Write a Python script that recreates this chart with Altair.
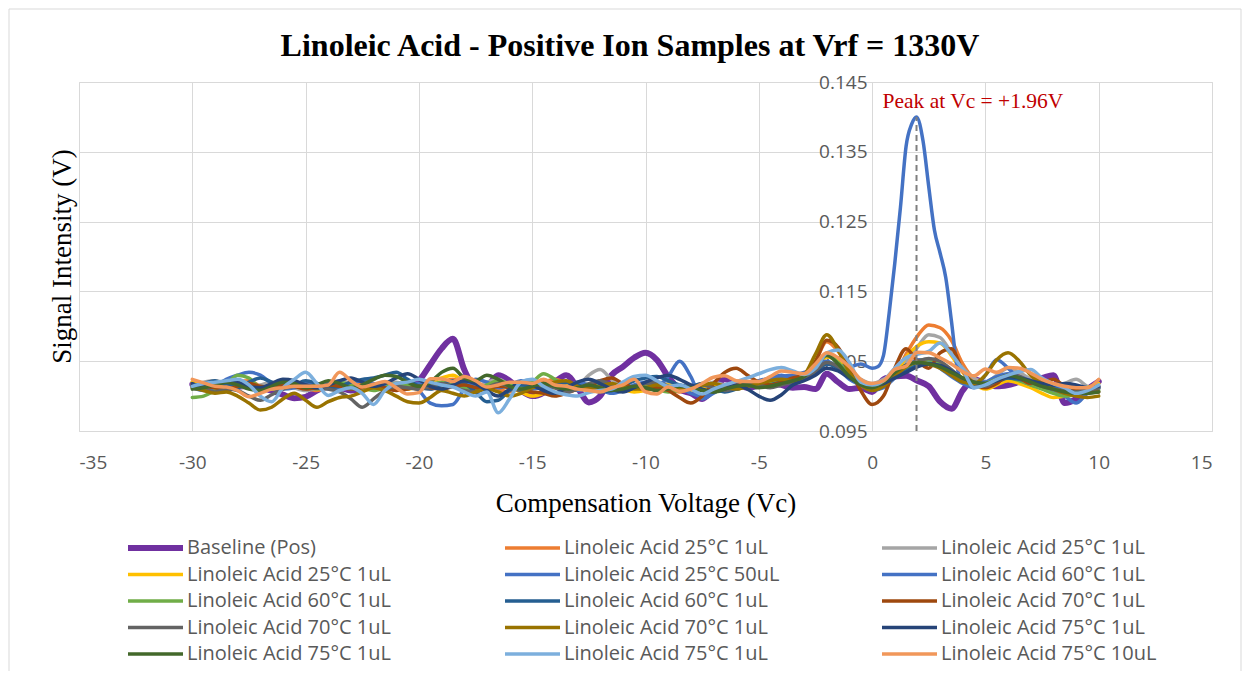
import altair as alt
import pandas as pd

# ---------------- data (signal values in units of 0.1 mV, i.e. 1017 -> 0.1017 V) ----------------
VC_GRID = [round(-30 + 0.5 * i, 1) for i in range(81)]  # -30 ... 10 in 0.5 V steps

baseline_pos = [1017, 1016, 1012, 1010, 1013, 1015, 1012, 1008, 1002, 997,
                999, 1008, 1014, 1012, 1008, 1010, 1015, 1013, 1010, 1012,
                1022, 1045, 1068, 1082, 1038, 1012, 1015, 1030, 1022, 1008,
                1000, 1005, 1020, 1030, 1012, 991, 1000, 1030, 1042, 1055,
                1062, 1052, 1028, 1010, 1004, 996, 1010, 1024, 1018, 1012,
                1015, 1020, 1016, 1012, 1013, 1010, 1032, 1020, 1010, 1012,
                1006, 1024, 1028, 1029, 1022, 1014, 992, 982, 1008, 1024,
                1018, 1014, 1016, 1020, 1022, 1026, 1030, 990, 996, 1010,
                1021]
la25_1_orange = [1018, 1015, 1012, 1016, 1020, 1022, 1014, 1010, 1015, 1018,
                 1012, 1008, 1012, 1016, 1020, 1015, 1010, 1012, 1018, 1014,
                 1010, 1016, 1020, 1024, 1018, 1012, 1016, 1010, 1006, 1012,
                 1016, 1020, 1024, 1018, 1012, 1010, 1014, 1018, 1012, 1008,
                 1012, 1016, 1010, 1006, 1012, 1018, 1014, 1010, 1016, 1020,
                 1018, 1022, 1026, 1024, 1028, 1050, 1078, 1064, 1040, 1022,
                 1014, 1016, 1028, 1060, 1086, 1102, 1098, 1080, 1046, 1024,
                 1014, 1018, 1026, 1030, 1022, 1012, 1006, 1008, 1004, 1006,
                 1014]
la25_1_gray = [1016, 1020, 1022, 1018, 1014, 1012, 1016, 1020, 1018, 1012,
               1008, 1012, 1018, 1022, 1016, 1010, 1012, 1016, 1020, 1016,
               1012, 1010, 1016, 1022, 1018, 1014, 1020, 1024, 1016, 1010,
               1012, 1018, 1016, 1010, 1014, 1030, 1038, 1024, 1014, 1012,
               1016, 1020, 1018, 1012, 1008, 1014, 1020, 1016, 1012, 1016,
               1020, 1024, 1020, 1022, 1028, 1042, 1058, 1052, 1036, 1024,
               1018, 1024, 1036, 1050, 1070, 1088, 1084, 1062, 1040, 1026,
               1020, 1030, 1040, 1034, 1024, 1016, 1012, 1018, 1024, 1014,
               1010]
la25_1_yellow = [1020, 1016, 1014, 1018, 1022, 1018, 1012, 1010, 1016, 1020,
                 1016, 1012, 1014, 1018, 1014, 1008, 1012, 1018, 1014, 1010,
                 1014, 1020, 1026, 1030, 1020, 1012, 1010, 1014, 1012, 1006,
                 1000, 1004, 1012, 1016, 1012, 1008, 1010, 1014, 1010, 1006,
                 1008, 1012, 1016, 1012, 1008, 1010, 1014, 1012, 1010, 1014,
                 1016, 1020, 1018, 1020, 1026, 1038, 1056, 1050, 1032, 1016,
                 1010, 1016, 1030, 1056, 1072, 1078, 1076, 1058, 1034, 1018,
                 1010, 1016, 1022, 1018, 1012, 1004, 998, 1000, 1006, 1012,
                 1018]
la25_50 = [1012, 1008, 1012, 1024, 1030, 1034, 1030, 1018, 1010, 1012,
           1020, 1016, 1010, 1012, 1018, 1022, 1018, 1014, 1012, 1018,
           1008, 990, 986, 988, 1010, 1024, 1020, 1012, 1016, 1022,
           1018, 1008, 1004, 1012, 1020, 1016, 1010, 1004, 1008, 1016,
           1020, 1014, 1028, 1050, 1028, 996, 1004, 1014, 1010, 1016,
           1022, 1026, 1030, 1026, 1032, 1044, 1050, 1040, 1024, 1016,
           1008, 1012, 1026, 1040, 1052, 1050, 1040, 1028, 1018, 1012,
           1030, 1052, 1040, 1024, 1016, 1012, 1008, 1000, 990, 1004,
           1012]
# peak series has a finer grid around the peak
la60_1_peak_vc = [-30, -29.5, -29, -28.5, -28, -27.5, -27, -26.5, -26, -25.5,
                  -25, -24.5, -24, -23.5, -23, -22.5, -22, -21.5, -21, -20.5,
                  -20, -19.5, -19, -18.5, -18, -17.5, -17, -16.5, -16, -15.5,
                  -15, -14.5, -14, -13.5, -13, -12.5, -12, -11.5, -11, -10.5,
                  -10, -9.5, -9, -8.5, -8, -7.5, -7, -6.5, -6, -5.5,
                  -5, -4.5, -4, -3.5, -3, -2.5, -2, -1.5, -1, -0.5,
                  0, 0.25, 0.5, 0.75, 1.0, 1.25, 1.5, 1.75, 1.96, 2.25,
                  2.5, 2.75, 3.0, 3.25, 3.5, 3.75, 4.0, 4.5,
                  5, 5.5, 6, 6.5, 7, 7.5, 8, 8.5, 9, 9.5, 10]
la60_1_peak = [1016, 1012, 1010, 1014, 1018, 1016, 1012, 1016, 1020, 1016,
               1012, 1014, 1020, 1016, 1010, 1012, 1016, 1014, 1010, 1014,
               1018, 1014, 1010, 1014, 1020, 1016, 1012, 1014, 1018, 1014,
               1010, 1014, 1016, 1012, 1008, 1012, 1016, 1012, 1008, 1012,
               1016, 1012, 1008, 1012, 1004, 1000, 1008, 1014, 1012, 1016,
               1020, 1024, 1028, 1030, 1034, 1040, 1046, 1044, 1042, 1046,
               1040, 1042, 1058, 1118, 1190, 1270, 1358, 1390, 1400, 1365,
               1300, 1238, 1205, 1170, 1108, 1042, 1020, 1016,
               1020, 1028, 1032, 1028, 1022, 1018, 1014, 1010, 1012, 1010, 1014]
la60_1_green = [998, 1000, 1008, 1016, 1030, 1026, 1012, 1010, 1014, 1018,
                1014, 1010, 1016, 1020, 1016, 1012, 1008, 1012, 1018, 1016,
                1012, 1016, 1020, 1016, 1012, 1010, 1016, 1022, 1018, 1014,
                1020, 1032, 1024, 1014, 1010, 1014, 1018, 1014, 1010, 1012,
                1014, 1010, 1006, 1008, 1012, 1010, 1006, 1008, 1012, 1014,
                1016, 1018, 1020, 1022, 1026, 1040, 1060, 1048, 1030, 1018,
                1012, 1018, 1030, 1040, 1050, 1052, 1046, 1032, 1022, 1016,
                1018, 1024, 1026, 1022, 1016, 1010, 1004, 1000, 1002, 1006,
                1008]
la60_1_dblue = [1014, 1018, 1022, 1016, 1012, 1020, 1026, 1020, 1014, 1016,
                1022, 1018, 1012, 1014, 1020, 1024, 1026, 1030, 1034, 1024,
                1014, 1010, 1016, 1022, 1018, 1006, 992, 994, 1008, 1016,
                1014, 1010, 1014, 1020, 1016, 1010, 1006, 1008, 1014, 1022,
                1026, 1028, 1022, 1016, 1014, 1018, 1012, 1006, 1010, 1014,
                1014, 1016, 1020, 1018, 1024, 1034, 1046, 1040, 1028, 1020,
                1016, 1020, 1028, 1036, 1044, 1046, 1042, 1034, 1024, 1018,
                1016, 1020, 1026, 1024, 1020, 1016, 1014, 1016, 1014, 1010,
                1012]
la70_1_brown = [1016, 1014, 1012, 1010, 1014, 1018, 1014, 1012, 1016, 1014,
                1010, 1012, 1016, 1014, 1010, 1012, 1016, 1012, 1008, 1010,
                1014, 1012, 1010, 1014, 1016, 1012, 1010, 1014, 1012, 1008,
                1006, 1004, 1000, 1004, 1010, 1014, 1022, 1026, 1018, 1012,
                1010, 1012, 1008, 998, 990, 1000, 1018, 1034, 1040, 1030,
                1020, 1016, 1020, 1026, 1030, 1050, 1080, 1070, 1040, 1008,
                988, 1000, 1040, 1068, 1050, 1040, 1062, 1068, 1036, 1018,
                1012, 1018, 1030, 1026, 1018, 1020, 1024, 1014, 1008, 1006,
                1006]
la70_1_gray = [1014, 1010, 1006, 1010, 1008, 1000, 994, 1002, 1010, 1014,
               1016, 1012, 1010, 1006, 996, 984, 996, 1008, 1014, 1012,
               1010, 1014, 1018, 1014, 1008, 1006, 1012, 1018, 1014, 1008,
               1012, 1016, 1012, 1006, 1010, 1018, 1022, 1016, 1010, 1014,
               1018, 1020, 1014, 1008, 1012, 1016, 1012, 1008, 1012, 1018,
               1016, 1012, 1016, 1020, 1024, 1036, 1048, 1042, 1028, 1016,
               1010, 1018, 1032, 1044, 1050, 1054, 1050, 1038, 1024, 1016,
               1014, 1022, 1030, 1028, 1020, 1014, 1010, 1008, 1006, 1008,
               1012]
la70_1_olive = [1012, 1008, 1004, 1006, 1000, 990, 980, 984, 996, 1004,
                994, 984, 992, 998, 1000, 1006, 1012, 1008, 1000, 992,
                990, 998, 1008, 1004, 1000, 1006, 1010, 1006, 1000, 1004,
                1012, 1016, 1020, 1022, 1014, 1010, 1014, 1018, 1014, 1010,
                1012, 1016, 1014, 1010, 1012, 1016, 1018, 1014, 1010, 1014,
                1018, 1022, 1024, 1022, 1030, 1060, 1088, 1066, 1034, 1016,
                1008, 1014, 1028, 1042, 1048, 1046, 1040, 1030, 1020, 1018,
                1030, 1052, 1062, 1050, 1030, 1018, 1010, 1004, 1000, 998,
                1000]
la75_1_navy = [1018, 1014, 1016, 1022, 1020, 1014, 1012, 1018, 1024, 1022,
               1016, 1012, 1016, 1022, 1026, 1020, 1014, 1018, 1026, 1032,
               1024, 1014, 1010, 1016, 1022, 1018, 1008, 1000, 1010, 1020,
               1016, 1008, 1004, 1012, 1020, 1024, 1018, 1010, 1006, 1012,
               1020, 1026, 1030, 1024, 1016, 1010, 1006, 1010, 1016, 1010,
               1000, 994, 1002, 1016, 1022, 1030, 1040, 1036, 1026, 1018,
               1014, 1018, 1026, 1034, 1042, 1046, 1044, 1036, 1026, 1020,
               1018, 1022, 1028, 1026, 1022, 1018, 1016, 1018, 1016, 1012,
               1014]
la75_1_dgreen = [1010, 1012, 1016, 1020, 1016, 1010, 1008, 1014, 1020, 1018,
                 1012, 1016, 1022, 1018, 1012, 1016, 1024, 1030, 1028, 1020,
                 1014, 1020, 1034, 1040, 1026, 1022, 1030, 1024, 1014, 1010,
                 1014, 1018, 1014, 1010, 1012, 1016, 1012, 1008, 1010, 1014,
                 1012, 1008, 1010, 1014, 1012, 1008, 1006, 1010, 1014, 1016,
                 1012, 1014, 1018, 1022, 1028, 1044, 1058, 1046, 1028, 1016,
                 1012, 1020, 1034, 1044, 1048, 1046, 1042, 1034, 1026, 1020,
                 1018, 1024, 1030, 1026, 1020, 1014, 1010, 1006, 1004, 1004,
                 1006]
la75_1_lblue = [1014, 1018, 1020, 1022, 1024, 1016, 1000, 992, 1012, 1024,
                1034, 1018, 1001, 1008, 1012, 1004, 988, 1008, 1018, 1020,
                1024, 1020, 1016, 1013, 1006, 1000, 1006, 976, 996, 1020,
                1024, 1014, 1006, 1002, 1000, 1005, 1008, 1010, 1020, 1028,
                1030, 1022, 1014, 1016, 1010, 1003, 1010, 1016, 1021, 1026,
                1032, 1038, 1041, 1036, 1031, 1040, 1062, 1066, 1048, 1020,
                1016, 1022, 1040, 1055, 1060, 1064, 1076, 1060, 1038, 1012,
                1016, 1024, 1030, 1035, 1038, 1026, 1018, 1012, 1004, 1008,
                1016]
la75_10_lorange = [1024, 1019, 1014, 1013, 1008, 999, 1004, 1010, 1012, 1014,
                   1014, 1014, 1016, 1034, 1022, 1013, 1017, 1021, 1012, 1003,
                   1005, 1025, 1025, 1021, 1028, 1022, 1013, 1016, 1020, 1020,
                   1018, 1024, 1016, 1014, 1010, 1008, 1006, 1012, 1016, 1024,
                   1006, 1003, 1013, 1007, 1010, 1018, 1027, 1029, 1022, 1021,
                   1021, 1028, 1036, 1034, 1032, 1046, 1062, 1055, 1042, 1024,
                   1018, 1022, 1038, 1043, 1063, 1062, 1055, 1046, 1035, 1029,
                   1039, 1034, 1041, 1040, 1033, 1024, 1018, 1014, 1012, 1012,
                   1024]

SERIES_KEYS = ["01", "02", "03", "04", "05", "06", "07", "08", "09", "10", "11", "12", "13", "14", "15"]
SERIES_LABELS = ["Baseline (Pos)", "Linoleic Acid 25°C 1uL", "Linoleic Acid 25°C 1uL",
                 "Linoleic Acid 25°C 1uL", "Linoleic Acid 25°C 50uL", "Linoleic Acid 60°C 1uL",
                 "Linoleic Acid 60°C 1uL", "Linoleic Acid 60°C 1uL", "Linoleic Acid 70°C 1uL",
                 "Linoleic Acid 70°C 1uL", "Linoleic Acid 70°C 1uL", "Linoleic Acid 75°C 1uL",
                 "Linoleic Acid 75°C 1uL", "Linoleic Acid 75°C 1uL", "Linoleic Acid 75°C 10uL"]
SERIES_COLORS = ["#7030A0", "#ED7D31", "#A5A5A5", "#FFC000", "#4472C4", "#4472C4",
                 "#70AD47", "#255E91", "#9E480E", "#636363", "#997300", "#264478",
                 "#43682B", "#7CAFDD", "#F1975A"]
SERIES_WIDTHS = [6, 3.5, 3.5, 3.5, 3.5, 3.5, 3.5, 3.5, 3.5, 3.5, 3.5, 3.5, 3.5, 3.5, 3.5]
SERIES_VALUES = [baseline_pos, la25_1_orange, la25_1_gray, la25_1_yellow, la25_50, la60_1_peak,
                 la60_1_green, la60_1_dblue, la70_1_brown, la70_1_gray, la70_1_olive,
                 la75_1_navy, la75_1_dgreen, la75_1_lblue, la75_10_lorange]
SERIES_VC = [VC_GRID] * 5 + [la60_1_peak_vc] + [VC_GRID] * 9

TITLE = "Linoleic Acid - Positive Ion Samples at Vrf = 1330V"
PEAK_VC = 1.96
PEAK_SIGNAL = 0.1400
PEAK_TEXT = "Peak at Vc = +1.96V"
PEAK_TEXT_VC = 4.45
PEAK_TEXT_SIG = 0.1421

X_TICKS = [-35, -30, -25, -20, -15, -10, -5, 0, 5, 10, 15]
Y_TICKS = [0.095, 0.105, 0.115, 0.125, 0.135, 0.145]

# ---------------- build table ----------------
domain = [k + "|" + lab for k, lab in zip(SERIES_KEYS, SERIES_LABELS)]
rows = []
for name, xs, vals in zip(domain, SERIES_VC, SERIES_VALUES):
    for x, v in zip(xs, vals):
        rows.append({"series": name, "vc": x, "sig": v / 10000.0})
df = pd.DataFrame(rows)

W, H = 1133, 349
AX_FONT = "Open Sans"
SERIF = "Liberation Serif"

legend = alt.Legend(
    orient="none", legendX=46, legendY=457, columns=3, direction="horizontal", title=None,
    symbolType="stroke", symbolSize=3025, clipHeight=18, labelExpr="split(datum.label, '|')[1]",
    labelFont=AX_FONT, labelFontSize=20, labelColor="#595959", labelLimit=400,
    labelOffset=1, rowPadding=6.5, columnPadding=99, gridAlign="all", padding=0,
)

x_enc = alt.X("vc:Q", scale=alt.Scale(domain=[-35, 15], nice=False),
              axis=alt.Axis(values=X_TICKS, title="Compensation Voltage (Vc)", grid=True,
                            gridColor="#D9D9D9", domain=False, ticks=False, tickSize=0,
                            labelPadding=22, labelFont=AX_FONT, labelFontSize=19,
                            labelExpr="'' + datum.value",
                            labelColor="#595959", titleFont=SERIF, titleFontSize=27,
                            titleFontWeight="normal", titleColor="#000000", titlePadding=18))
y_enc = alt.Y("sig:Q", scale=alt.Scale(domain=[0.095, 0.145], nice=False, zero=False),
              axis=alt.Axis(values=Y_TICKS, format=".3f", title="Signal Intensity (V)",
                            grid=True, gridColor="#D9D9D9", domain=False, ticks=False,
                            tickSize=0, offset=-793, labelPadding=5, labelFont=AX_FONT,
                            labelFontSize=19, labelColor="#595959", titleFont=SERIF,
                            titleFontSize=27, titleFontWeight="normal", titleColor="#000000",
                            titleX=-810, titleY=174, titleAngle=270, titleAlign="center",
                            titleBaseline="middle"))

lines = alt.Chart(df).mark_line(interpolate="monotone", strokeCap="round", strokeJoin="round").encode(
    x=x_enc, y=y_enc,
    color=alt.Color("series:N", scale=alt.Scale(domain=domain, range=SERIES_COLORS), legend=legend),
    strokeWidth=alt.StrokeWidth("series:N", scale=alt.Scale(type="ordinal", domain=domain, range=SERIES_WIDTHS),
                                legend=legend),
)

peak_df = pd.DataFrame({"vc": [PEAK_VC], "lo": [0.095], "hi": [PEAK_SIGNAL]})
rule = alt.Chart(peak_df).mark_rule(color="#7F7F7F", strokeWidth=2, strokeDash=[6, 4]).encode(
    x="vc:Q", y="lo:Q", y2="hi:Q")

text_df = pd.DataFrame({"vc": [PEAK_TEXT_VC], "sig": [PEAK_TEXT_SIG], "t": [PEAK_TEXT]})
label = alt.Chart(text_df).mark_text(font=SERIF, fontSize=21.5, color="#C00000", align="center",
                                     baseline="middle").encode(x="vc:Q", y="sig:Q", text="t:N")

one_row = pd.DataFrame({"a": [0]})
frame = alt.Chart(one_row).mark_rect(filled=False, stroke="#D9D9D9", strokeWidth=1).encode(
    x=alt.value(-70), x2=alt.value(1162), y=alt.value(-73), y2=alt.value(640))

title_mark = alt.Chart(one_row).mark_text(font=SERIF, fontSize=32, fontWeight="bold", color="#000000",
                                          align="center", baseline="middle").encode(
    x=alt.value(551), y=alt.value(-36), text=alt.value(TITLE))

chart = alt.layer(frame, title_mark, lines, rule, label).properties(
    width=W, height=H,
    autosize=alt.AutoSizeParams(type="none"),
    padding={"left": 71, "top": 74, "right": 32, "bottom": 240},
).configure(background="white").configure_view(stroke="#D9D9D9")

chart.save("out.html", embed_options={"renderer": "svg", "actions": False})
